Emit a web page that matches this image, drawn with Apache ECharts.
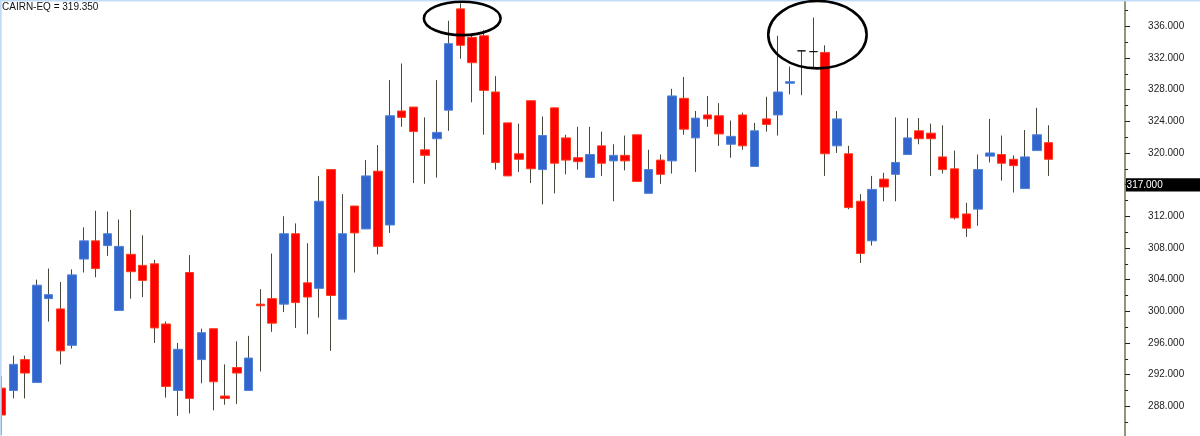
<!DOCTYPE html>
<html><head><meta charset="utf-8">
<script src="https://cdn.jsdelivr.net/npm/echarts@6/dist/echarts.min.js"></script>
<style>html,body{margin:0;padding:0;background:#fff;overflow:hidden}#c{width:1200px;height:436px}</style>
</head><body><div id="c"></div>
<script>
const titleText = 'CAIRN-EQ = 319.350';
const openP  = [290.3,290.0,293.9,291.0,301.6,300.3,295.7,306.6,308.9,308.3,300.1,307.2,305.8,306.0,298.4,290.0,304.9,293.9,297.8,289.3,
                292.9,290.0,300.9,301.6,300.9,309.8,303.6,302.9,317.9,299.0,313.3,310.4,317.7,310.9,325.3,325.8,320.4,321.8,325.4,338.2,
                334.6,334.8,327.7,323.8,319.9,326.6,317.9,325.7,321.9,319.4,316.9,320.9,319.0,319.7,322.3,314.9,319.1,319.0,326.9,321.9,
                324.8,324.7,321.1,324.8,318.3,324.3,324.8,328.8,332.9,332.8,332.7,320.9,319.9,313.9,308.9,316.7,317.3,319.8,322.8,322.5,
                319.5,318.0,312.3,312.9,319.6,319.8,319.2,315.5,320.3,321.3];
const closeP = [286.9,293.3,292.2,303.3,302.1,295.0,304.6,308.9,305.4,309.8,308.2,305.0,303.9,297.9,290.5,295.2,289.0,297.3,291.1,289.0,
                292.2,294.1,300.7,298.5,309.8,301.1,301.8,313.9,302.0,309.8,309.9,317.1,308.2,324.7,324.5,322.7,319.7,322.6,333.8,333.6,
                331.4,327.9,318.8,317.1,319.2,318.0,322.2,318.7,319.1,318.9,319.8,318.7,319.7,319.0,316.4,317.9,317.3,327.2,323.0,324.4,
                324.3,322.4,322.1,320.9,322.8,323.6,327.7,329.0,332.9,332.8,319.9,324.3,313.1,307.3,315.4,315.7,318.8,321.9,321.8,321.8,
                317.9,311.8,310.5,317.9,320.0,318.7,318.4,319.5,322.3,319.2];
const lowP   = [284.4,289.0,289.0,291.0,298.7,293.3,295.3,304.9,304.3,307.0,300.1,301.6,301.8,296.0,289.1,286.8,287.1,290.9,287.5,288.2,
                288.3,290.0,292.4,297.4,299.9,297.9,297.1,299.2,295.0,299.0,304.9,310.4,307.2,309.9,323.3,316.2,316.1,316.9,322.8,331.9,
                326.4,322.3,317.9,317.1,317.6,316.2,313.5,314.9,317.3,317.9,316.9,317.1,313.9,317.8,316.4,314.9,316.1,317.4,322.3,317.6,
                323.3,320.9,319.4,320.4,318.3,322.7,322.2,327.4,327.3,330.6,317.1,320.0,312.9,306.1,308.3,313.9,313.9,319.8,321.1,317.1,
                317.4,311.6,309.4,310.8,318.8,316.5,315.0,315.5,320.3,317.1];
const highP  = [291.8,294.4,294.4,304.0,305.4,303.7,305.3,310.6,312.7,312.6,311.6,312.8,309.6,306.5,298.7,296.0,307.1,297.8,297.8,293.3,
                296.2,296.9,302.8,307.3,312.0,311.1,308.6,317.1,317.9,314.8,313.3,319.1,321.0,329.2,331.3,325.8,324.5,329.2,336.7,338.9,
                335.0,335.5,329.7,323.8,323.7,326.6,324.6,325.7,322.3,323.3,323.3,322.7,321.1,322.2,322.3,320.4,319.8,328.1,329.6,325.3,
                327.2,326.3,324.1,325.1,323.8,327.1,334.8,330.9,332.9,337.1,333.6,325.3,320.9,314.8,317.1,317.5,324.5,324.4,324.4,323.7,
                323.5,320.3,313.7,319.8,324.3,322.2,319.7,322.9,325.7,323.5];
const slotCount = 96;
const categories = Array.from({length: slotCount}, (_, i) => 'D' + (i + 1));
const majorTicks = [288,292,296,300,304,308,312,316,320,324,328,332,336];
const minorTicks = [286,290,294,298,302,306,310,314,318,322,326,330,334,338];
const lastPrice = 317;
// annotation ellipses in data units: [categoryIndex, value, radiusCategories, radiusValue]
const circled = [[39.16, 336.99, 3.26, 2.11], [69.35, 334.94, 4.18, 4.26]];

const wickData = openP.map((o, i) => [o, closeP[i], lowP[i], highP[i]]);
const bodyData = openP.map((o, i) => [o, closeP[i], Math.min(o, closeP[i]), Math.max(o, closeP[i])]);

const Y_MIN = 284.25, Y_MAX = 339.32;
const wickColor = '#45473a';
const chart = echarts.init(document.getElementById('c'), null, {renderer: 'canvas'});
chart.setOption({
  animation: false,
  backgroundColor: '#fff',
  title: {text: titleText, left: 2, top: 2, padding: 0,
    textStyle: {fontSize: 10, fontWeight: 'normal', color: '#111', fontFamily: 'Liberation Sans, Arial, sans-serif'}},
  grid: {left: -4.38, right: 74.9, top: 0, bottom: 0, outerBoundsMode: 'none', containLabel: false},
  xAxis: {type: 'category', data: categories, boundaryGap: true, show: false},
  yAxis: [
    {type: 'value', position: 'right', min: Y_MIN, max: Y_MAX, splitLine: {show: false},
     axisLine: {show: true, lineStyle: {color: '#6b7350', width: 1.5}},
     axisTick: {show: true, customValues: majorTicks, length: 5, lineStyle: {color: '#222', width: 1}},
     axisLabel: {customValues: majorTicks, margin: 23, formatter: v => v.toFixed(3), color: '#222', fontSize: 10,
       fontFamily: 'Liberation Sans, Arial, sans-serif'}},
    {type: 'value', position: 'right', min: Y_MIN, max: Y_MAX, splitLine: {show: false},
     axisLine: {show: false},
     axisTick: {show: true, customValues: minorTicks, length: 3, lineStyle: {color: '#222', width: 1}},
     axisLabel: {show: false}}
  ],
  series: [
    {type: 'candlestick', name: 'range', data: wickData, barWidth: 1, z: 2,
     itemStyle: {color: wickColor, color0: wickColor, borderColor: wickColor, borderColor0: wickColor,
       borderColorDoji: wickColor, borderWidth: 1}},
    {type: 'candlestick', name: 'body', data: bodyData, barWidth: 9, z: 3,
     itemStyle: {color: '#3366cc', color0: '#ff0000', borderColor: '#4f82da', borderColor0: '#ff3c1c',
       borderColorDoji: '#111', borderWidth: 1}}
  ]
});

// overlay annotations positioned through the chart's own scales
const a = chart.convertToPixel({xAxisIndex: 0, yAxisIndex: 0}, [0, 336]);
const b = chart.convertToPixel({xAxisIndex: 0, yAxisIndex: 0}, [1, 332]);
const sx = b[0] - a[0];
const sy = (b[1] - a[1]) / 4; // pixels per price unit (positive)
const toPx = (i, v) => [a[0] + i * sx, a[1] - (v - 336) * sy];
const axisX = toPx(slotCount - 0.5, 0)[0];
const tagTop = toPx(0, lastPrice)[1] + 1.5;
const graphics = [
  {type: 'rect', shape: {x: 0, y: 0, width: 1200, height: 1.5}, style: {fill: '#c2dcf7'}, z: 10},
  {type: 'rect', shape: {x: 0, y: 0, width: 1.7, height: 436}, style: {fill: '#c2dcf7'}, z: 10},
  {type: 'rect', shape: {x: axisX + 0.8, y: tagTop, width: 1200 - axisX, height: 13.4}, style: {fill: '#000'}, z: 10},
  {type: 'text', x: axisX + 1.5, y: tagTop + 7, style: {text: lastPrice.toFixed(3), fill: '#fff', fontSize: 10,
    fontFamily: 'Liberation Sans, Arial, sans-serif', verticalAlign: 'middle', align: 'left'}, z: 11}
];
circled.forEach(([ci, cv, rc, rv]) => {
  const c = toPx(ci, cv);
  graphics.push({type: 'ellipse', shape: {cx: c[0], cy: c[1], rx: rc * sx, ry: rv * sy},
    style: {fill: 'none', stroke: '#000', lineWidth: 2.6}, z: 12});
});
chart.setOption({graphic: graphics});
</script>
</body></html>
